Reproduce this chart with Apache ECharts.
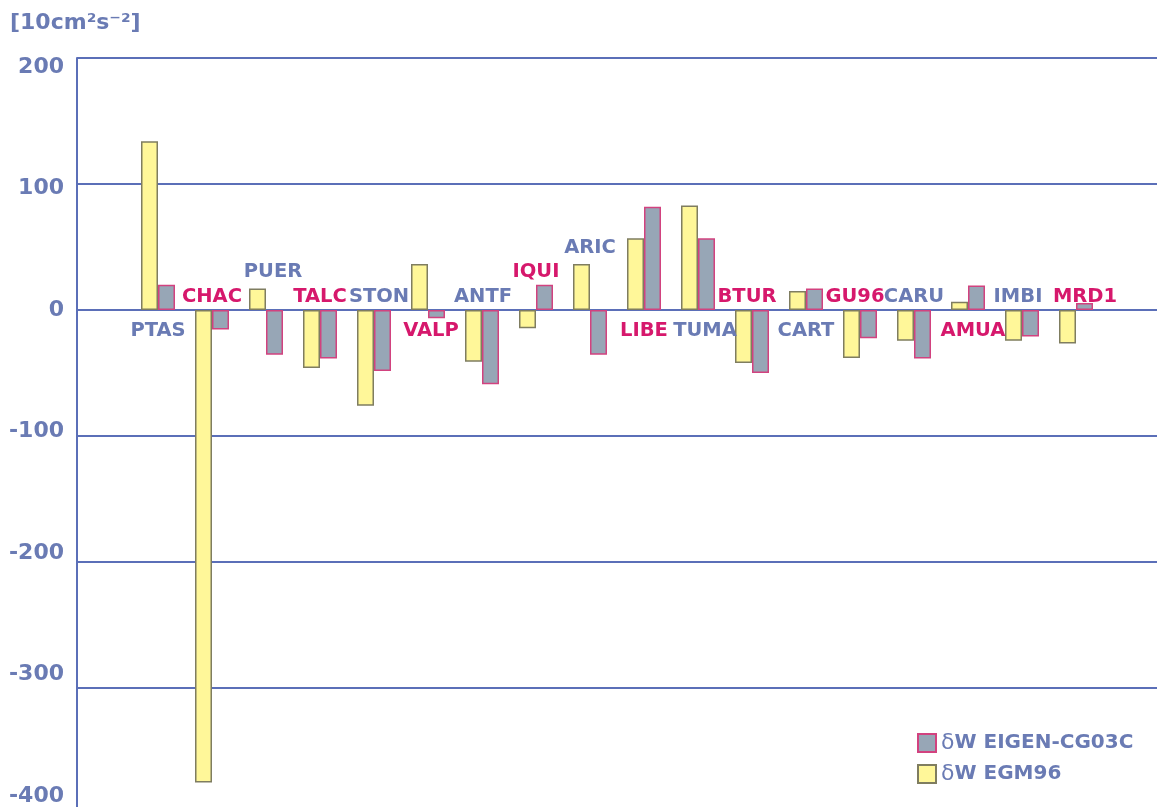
<!DOCTYPE html>
<html>
<head>
<meta charset="utf-8">
<style>
  html, body { margin: 0; padding: 0; background: #fff; overflow: hidden; }
  /* taller than the window: the -400 line sits just below the visible edge */
  #chart { width: 1157px; height: 816px; }
</style>
<script src="https://cdn.jsdelivr.net/npm/echarts@6/dist/echarts.min.js"></script>
</head>
<body>
<div id="chart"></div>
<script>
// stations along the profile, south to north
const stations = ['PTAS', 'CHAC', 'PUER', 'TALC', 'STON', 'VALP', 'ANTF', 'IQUI', 'ARIC',
  'LIBE', 'TUMA', 'BTUR', 'CART', 'GU96', 'CARU', 'AMUA', 'IMBI', 'MRD1'];

// δW values [10 cm²s⁻²]
const egm96 = [134, -375, 17, -46, -76, 36.5, -41, -14.5, 36.5, 57, 83, -42, 15, -38, -24.5, 6.5, -24.5, -26.5];
const eigen = [20, -15.5, -35.5, -38.5, -48.5, -6.5, -59, 20, -35.5, 82, 57, -50, 17, -22.5, -38.5, 19.5, -21, 5.5];

const yTicks = [200, 100, 0, -100, -200, -300, -400];

// where each station name sits (axis value) and a small sideways nudge in px
const labelAt = [-17, 10.7, 30.5, 10.7, 10.7, -17, 10.7, 30.5, 49.6,
  -17, -17, 10.7, -17, 10.7, 10.7, -17, 10.7, 10.7];
const labelNudge = [0, 0, 7, 0, 5, 3, 1, 0, 0, 0, 7, -5, 0, -5, 0, 5, -4, 9];

const BLUE = '#6a7bb4';
const PINK = '#d6186c';

// one empty slot on each side, like the original slide
const cats = [''].concat(stations, [' ']);
const pad = arr => [null].concat(arr, [null]);

const chart = echarts.init(document.getElementById('chart'));

const labelData = stations.map((s, i) => ({
  value: [s, labelAt[i]],
  label: {
    color: i % 2 === 0 ? BLUE : PINK,
    offset: [labelNudge[i], 0]
  }
}));

const option = {
  animation: false,
  textStyle: { fontFamily: 'DejaVu Sans' },
  graphic: [{
    type: 'text',
    left: 10,
    top: 12,
    style: {
      text: '[10cm²s⁻²]',
      fill: BLUE,
      font: 'bold 22px "DejaVu Sans"'
    }
  }],
  legend: {
    data: ['δW EIGEN-CG03C', 'δW EGM96'],
    orient: 'vertical',
    left: 917,
    top: 732,
    padding: 0,
    icon: 'rect',
    itemWidth: 18,
    itemHeight: 18,
    itemGap: 9,
    formatter: name => '{d|δ}' + name.slice(1),
    textStyle: {
      color: BLUE,
      fontSize: 20,
      fontWeight: 'bold',
      fontFamily: 'DejaVu Sans',
      rich: {
        d: { fontSize: 22, fontWeight: 'normal', color: BLUE, fontFamily: 'DejaVu Sans' }
      }
    }
  },
  grid: { left: 77, right: 0, top: 58, height: 756, containLabel: false },
  xAxis: {
    type: 'category',
    data: cats,
    axisLine: { show: false },
    axisTick: { show: false },
    axisLabel: { show: false },
    splitLine: { show: false }
  },
  yAxis: [{
    type: 'value',
    min: -400,
    max: 200,
    interval: 100,
    axisLine: { show: true, lineStyle: { color: '#5b6fb8', width: 2 } },
    axisTick: { show: false },
    axisLabel: { show: false },
    splitLine: { lineStyle: { color: '#5b6fb8', width: 2 } }
  }, {
    // label-only axis: the slide's tick labels drift a bit from the grid lines
    type: 'value',
    position: 'left',
    min: -414.8,
    max: 207.4,
    axisLine: { show: false },
    axisTick: { show: false },
    splitLine: { show: false },
    axisLabel: {
      customValues: yTicks,
      margin: 13,
      color: BLUE,
      fontSize: 22,
      fontWeight: 'bold',
      fontFamily: 'DejaVu Sans'
    }
  }],
  series: [{
    name: 'δW EGM96',
    type: 'bar',
    data: pad(egm96),
    barWidth: 17,
    barGap: '0%',
    itemStyle: { color: '#fff799', borderColor: '#7f7d60', borderWidth: 1.5 }
  }, {
    name: 'δW EIGEN-CG03C',
    type: 'bar',
    data: pad(eigen),
    barWidth: 17,
    itemStyle: { color: '#97a6b6', borderColor: '#d2427f', borderWidth: 1.5 }
  }, {
    name: 'stations',
    type: 'scatter',
    symbolSize: 0,
    silent: true,
    z: 5,
    itemStyle: { opacity: 1 },
    data: labelData,
    label: {
      show: true,
      position: 'inside',
      formatter: p => p.value[0],
      fontSize: 19.5,
      fontWeight: 'bold',
      fontFamily: 'DejaVu Sans'
    }
  }]
};

chart.setOption(option);
</script>
</body>
</html>
